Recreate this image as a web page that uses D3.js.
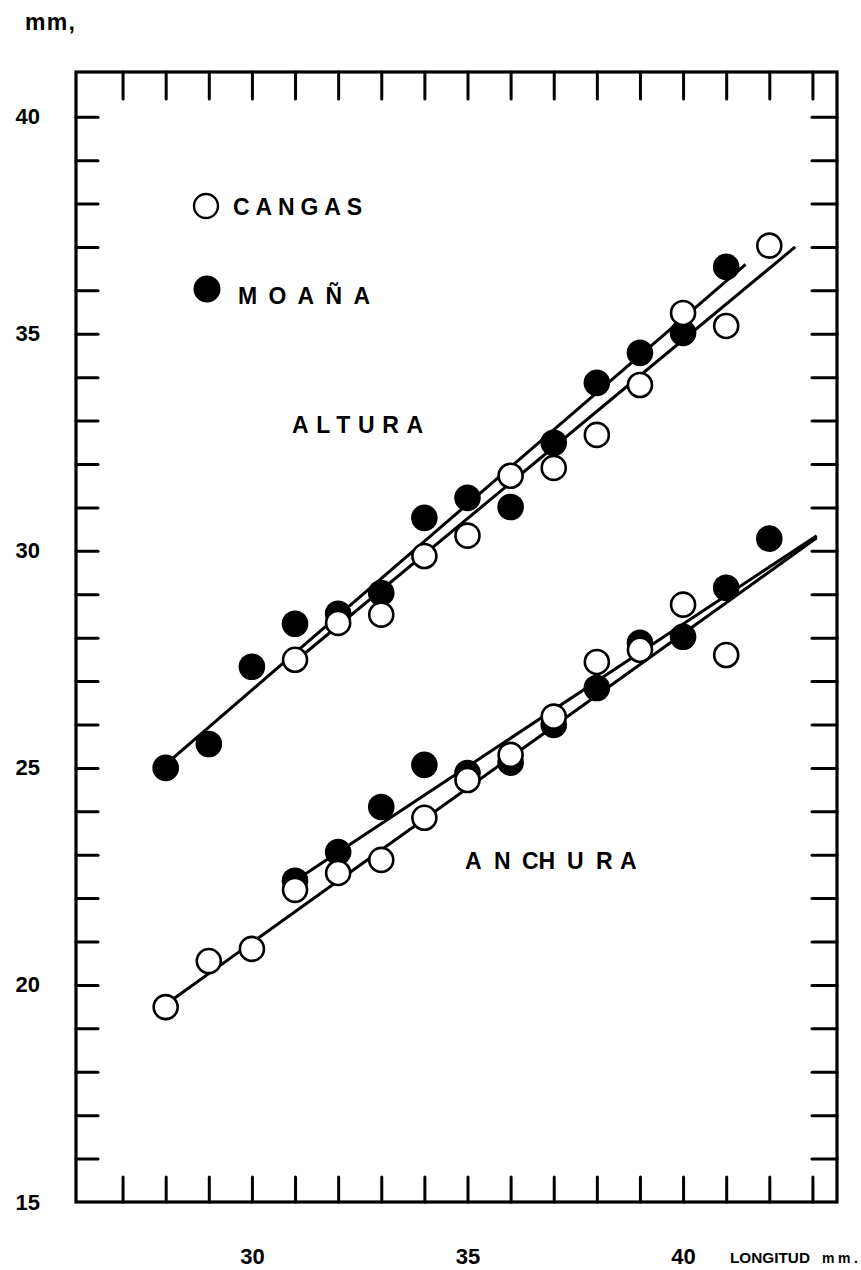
<!DOCTYPE html>
<html>
<head>
<meta charset="utf-8">
<script src="https://cdn.jsdelivr.net/npm/d3@7/dist/d3.min.js"></script>
<style>
  html, body { margin: 0; padding: 0; background: #fff; }
  svg { display: block; }
  text { font-family: "Liberation Sans", Arial, sans-serif; font-weight: bold; fill: #000; }
</style>
</head>
<body>
<svg id="chart" width="861" height="1270"></svg>
<script>
// Shell height and width against length (mm), two localities.
const altMoanaX   = [28, 29, 30, 31, 32, 33, 34, 35, 36, 37, 38, 39, 40, 41];
const altMoanaY   = [25.0, 25.55, 27.33, 28.32, 28.55, 29.03, 30.76, 31.22, 31.01, 32.49, 33.87, 34.56, 35.02, 36.54];
const altCangasX  = [31, 32, 33, 34, 35, 36, 37, 38, 39, 40, 41, 42];
const altCangasY  = [27.49, 28.34, 28.53, 29.88, 30.35, 31.73, 31.91, 32.67, 33.82, 35.48, 35.18, 37.03];
const anchMoanaX  = [31, 32, 33, 34, 35, 36, 37, 38, 39, 40, 41, 42];
const anchMoanaY  = [22.4, 23.06, 24.1, 25.07, 24.88, 25.12, 25.99, 26.84, 27.88, 28.02, 29.15, 30.28];
const anchCangasX = [28, 29, 30, 31, 32, 33, 34, 35, 36, 37, 38, 39, 40, 41];
const anchCangasY = [19.49, 20.55, 20.83, 22.19, 22.58, 22.88, 23.85, 24.72, 25.3, 26.18, 27.44, 27.72, 28.76, 27.6];

// Fitted straight lines (start and end points, in data units)
const altMoanaFit   = [[28, 25.08], [41.45, 36.6]];
const altCangasFit  = [[31, 27.45], [42.6, 37.0]];
const anchMoanaFit  = [[31, 22.4], [43.1, 30.35]];
const anchCangasFit = [[28, 19.55], [43.1, 30.3]];

// Axis ticks and labels
const xTicks = d3.range(27, 44);
const yTicks = d3.range(16, 41);
const xLabels = [30, 35, 40];
const yLabels = [15, 20, 25, 30, 35, 40];

const svg = d3.select("#chart");
const x = d3.scaleLinear().domain([25.92, 43.57]).range([76, 837]);
const y = d3.scaleLinear().domain([15, 41.03]).range([1202, 72]);

const INK = "#000";

// Frame
svg.append("rect")
  .attr("x", x(25.92)).attr("y", y(41.03))
  .attr("width", x(43.57) - x(25.92)).attr("height", y(15) - y(41.03))
  .attr("fill", "none").attr("stroke", INK).attr("stroke-width", 3.2);

// Inward ticks on all four sides
function styleAxis(g) {
  g.select(".domain").remove();
  g.selectAll(".tick line").attr("stroke", INK).attr("stroke-width", 3).attr("stroke-linecap", "round");
}
svg.append("g").attr("transform", `translate(0,${y(15)})`)
  .call(d3.axisBottom(x).tickValues(xTicks).tickSize(-25).tickFormat(""))
  .call(styleAxis);
svg.append("g").attr("transform", `translate(0,${y(41.03)})`)
  .call(d3.axisTop(x).tickValues(xTicks).tickSize(-27).tickFormat(""))
  .call(styleAxis);
svg.append("g").attr("transform", `translate(${x(25.92)},0)`)
  .call(d3.axisLeft(y).tickValues(yTicks).tickSize(-22).tickFormat(""))
  .call(styleAxis);
svg.append("g").attr("transform", `translate(${x(43.57)},0)`)
  .call(d3.axisRight(y).tickValues(yTicks).tickSize(-25).tickFormat(""))
  .call(styleAxis);

// Tick labels
const xl = svg.append("g").attr("transform", `translate(0,${y(15)})`)
  .call(d3.axisBottom(x).tickValues(xLabels).tickSize(0).tickPadding(46).tickFormat(d3.format("d")));
xl.select(".domain").remove();
xl.selectAll("text").attr("font-size", 22).attr("font-family", "Liberation Sans, Arial, sans-serif")
  .attr("font-weight", "bold").attr("fill", INK);

const yl = svg.append("g").attr("transform", `translate(${x(25.92)},0)`)
  .call(d3.axisLeft(y).tickValues(yLabels).tickSize(0).tickPadding(36).tickFormat(d3.format("d")));
yl.select(".domain").remove();
yl.selectAll("text").attr("font-size", 22).attr("font-family", "Liberation Sans, Arial, sans-serif")
  .attr("font-weight", "bold").attr("fill", INK);

// Unit labels
svg.append("text").attr("x", 25).attr("y", 30).attr("font-size", 23)
  .attr("textLength", 50).attr("lengthAdjust", "spacing").text("mm,");
svg.append("text").attr("x", 730).attr("y", 1263).attr("font-size", 14)
  .attr("textLength", 80).attr("lengthAdjust", "spacingAndGlyphs").text("LONGITUD");
svg.append("text").attr("x", 822).attr("y", 1263).attr("font-size", 14)
  .attr("textLength", 36).attr("lengthAdjust", "spacing").text("mm.");

// Fitted lines
const line = d3.line().x(d => x(d[0])).y(d => y(d[1]));
[altMoanaFit, altCangasFit, anchMoanaFit, anchCangasFit].forEach(f => {
  svg.append("path").attr("d", line(f)).attr("fill", "none")
    .attr("stroke", INK).attr("stroke-width", 3);
});

// Points: filled (Moaña) under open (Cangas)
function pts(xs, ys) { return xs.map((v, i) => [v, ys[i]]); }
function filled(data) {
  svg.append("g").selectAll("circle").data(data).join("circle")
    .attr("cx", d => x(d[0])).attr("cy", d => y(d[1])).attr("r", 13.3).attr("fill", INK);
}
function open(data) {
  svg.append("g").selectAll("circle").data(data).join("circle")
    .attr("cx", d => x(d[0])).attr("cy", d => y(d[1])).attr("r", 12)
    .attr("fill", "#fff").attr("stroke", INK).attr("stroke-width", 2.6);
}
filled(pts(altMoanaX, altMoanaY));
filled(pts(anchMoanaX, anchMoanaY));
open(pts(altCangasX, altCangasY));
open(pts(anchCangasX, anchCangasY));

// Legend
svg.append("circle").attr("cx", 206).attr("cy", 206).attr("r", 12)
  .attr("fill", "#fff").attr("stroke", INK).attr("stroke-width", 2.4);
svg.append("text").attr("x", 233).attr("y", 215).attr("font-size", 23)
  .attr("textLength", 129).attr("lengthAdjust", "spacing").text("CANGAS");
svg.append("circle").attr("cx", 207).attr("cy", 289).attr("r", 13.5).attr("fill", INK);
svg.append("text").attr("x", 238).attr("y", 304).attr("font-size", 23)
  .attr("textLength", 132).attr("lengthAdjust", "spacing").text("MOAÑA");

// Series labels
svg.append("text").attr("x", 292).attr("y", 433).attr("font-size", 23)
  .attr("textLength", 131).attr("lengthAdjust", "spacing").text("ALTURA");
const anch = svg.append("text").attr("y", 869).attr("font-size", 23);
[["A", 465], ["N", 494], ["CH", 522], ["U", 567], ["R", 596], ["A", 620]].forEach(([t, px]) => {
  anch.append("tspan").attr("x", px).text(t);
});
</script>
</body>
</html>
